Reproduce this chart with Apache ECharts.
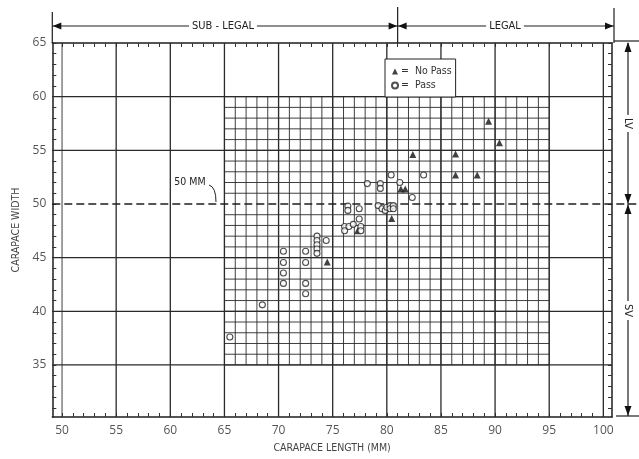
<!DOCTYPE html>
<html><head><meta charset="utf-8">
<script src="https://cdn.jsdelivr.net/npm/echarts@6/dist/echarts.min.js"></script>
<style>html,body{margin:0;padding:0;background:#fff}#c{width:639px;height:459px}</style>
</head><body><div id="c"></div>
<script>
// ---- data ----
const xTickLabels = [50,55,60,65,70,75,80,85,90,95,100];
const yTickLabels = [35,40,45,50,55,60,65];
const passLength = [65.5,68.5,70.45,70.45,70.45,70.45,72.5,72.5,72.5,72.5,73.55,73.55,73.55,73.55,73.55,74.4,76.4,76.4,77.45,77.45,76.1,76.1,76.5,76.9,77.6,77.6,78.2,79.4,79.4,80.4,81.2,82.35,83.4,79.2,79.55,79.85,80.0,80.3,80.3,80.6,80.6];
const passWidth  = [37.6,40.6,45.6,44.55,43.57,42.6,45.6,44.55,42.6,41.64,47.0,46.6,46.2,45.8,45.4,46.6,49.8,49.4,49.55,48.6,47.9,47.5,47.9,48.1,47.9,47.5,51.9,51.9,51.45,52.7,52.0,50.6,52.7,49.85,49.55,49.4,49.7,49.85,49.55,49.85,49.55];
const noPassLength = [74.5,77.3,80.45,81.3,81.7,82.4,86.35,86.35,88.35,89.4,90.4];
const noPassWidth  = [44.6,47.5,48.65,51.4,51.4,54.6,54.65,52.7,52.7,57.7,55.7];
const legalLength = 81;     // SUB-LEGAL / LEGAL boundary (mm)
const refWidth = 50;        // 50 MM carapace width reference
const xMin = 49.1, xMax = 100.8, yMin = 30.15, yMax = 65;
const majorX = [50,55,60,65,70,75,80,85,90,95,100];
const majorY = [35,40,45,55,60];
const fineXRange = [65,95], fineYRange = [35,60];

// ---- build ----
const pass = passLength.map((v,i)=>[v, passWidth[i]]);
const noPass = noPassLength.map((v,i)=>[v, noPassWidth[i]]);
const segs = [];
for (let x = fineXRange[0]; x <= fineXRange[1]; x++) segs.push([x, fineYRange[0], x, fineYRange[1], 0.9]);
for (let y = fineYRange[0]; y <= fineYRange[1]; y++) if (y !== refWidth) segs.push([fineXRange[0], y, fineXRange[1], y, 0.9]);
majorX.forEach(x => segs.push([x, yMin, x, yMax, x === 50 ? 0.9 : 1.3]));
majorY.forEach(y => segs.push([xMin, y, xMax, y, 1.3]));
const tickX = []; for (let x = 50; x <= 100; x++) tickX.push(x);
const tickY = []; for (let y = 31; y <= 65; y++) tickY.push(y);

const labelFont = 'Open Sans';
const frame = {show:true, onZero:false, lineStyle:{color:'#1e1e1e', width:1.5}};
const ticks = (vals)=>({show:true, inside:true, length:4, customValues: vals, lineStyle:{color:'#333', width:1}});

const chart = echarts.init(document.getElementById('c'));
chart.setOption({
  animation:false,
  backgroundColor:'#fff',
  grid:{left:52.3, right:27, top:43, bottom:37.3, containLabel:false},
  xAxis:[
    {type:'value', min:xMin, max:xMax, position:'bottom', axisLine:frame, axisTick:ticks(tickX),
     axisLabel:{customValues:xTickLabels, color:'#555', fontSize:12, margin:8, fontFamily:labelFont},
     splitLine:{show:false},
     name:'CARAPACE LENGTH (MM)', nameLocation:'middle', nameGap:26,
     nameTextStyle:{color:'#444', fontSize:10.5, fontFamily:'DejaVu Sans Condensed'}},
    {type:'value', min:xMin, max:xMax, position:'top', axisLine:frame, axisTick:ticks(tickX),
     axisLabel:{show:false}, splitLine:{show:false}}
  ],
  yAxis:[
    {type:'value', min:yMin, max:yMax, position:'left', axisLine:frame, axisTick:ticks(tickY),
     axisLabel:{customValues:yTickLabels, color:'#555', fontSize:12, margin:6, fontFamily:labelFont},
     splitLine:{show:false},
     name:'CARAPACE WIDTH', nameLocation:'middle', nameGap:28,
     nameTextStyle:{color:'#444', fontSize:10.5, fontFamily:'DejaVu Sans Condensed'}},
    {type:'value', min:yMin, max:yMax, position:'right', axisLine:frame, axisTick:ticks(tickY),
     axisLabel:{show:false}, splitLine:{show:false}}
  ],
  legend:{data:['No Pass','Pass'], orient:'vertical', left:385, top:59, selectedMode:false,
    backgroundColor:'#fff', borderColor:'#222', borderWidth:1, borderRadius:0,
    padding:[7,4,6,6], itemGap:3, itemWidth:6, itemHeight:6,
    formatter: n => '=  ' + n,
    textStyle:{fontSize:10.5, color:'#333', fontFamily:'DejaVu Sans Condensed', padding:[0,0,0,-2]}},
  series:[
    {type:'custom', name:'grid', coordinateSystem:'cartesian2d', silent:true, z:1,
     data:segs, encode:{x:[0,2], y:[1,3]},
     renderItem:(params, api)=>{
       const p1 = api.coord([api.value(0), api.value(1)]);
       const p2 = api.coord([api.value(2), api.value(3)]);
       return {type:'line', shape:{x1:p1[0], y1:p1[1], x2:p2[0], y2:p2[1]},
               style:{stroke:'#2a2a2a', lineWidth:api.value(4)}};
     }},
    {type:'scatter', name:'No Pass', data:noPass, symbol:'triangle', symbolSize:7, z:3,
     itemStyle:{color:'#111'}},
    {type:'scatter', name:'Pass', data:pass, symbol:'circle', symbolSize:6, z:3,
     itemStyle:{color:'#fff', borderColor:'#222', borderWidth:1.1}}
  ]
});

// ---- annotations positioned through the axes ----
const px = (x,y)=>chart.convertToPixel({xAxisIndex:0, yAxisIndex:0}, [x,y]);
const L = px(xMin, yMax)[0], R = px(xMax, yMax)[0], T = px(xMin, yMax)[1], B = px(xMin, yMin)[1];
const LX = px(legalLength, yMax)[0];
const Y50 = px(xMin, refWidth)[1];
const rX = R + 2;
const ay = 26, ax = 628;
const ln = (x1,y1,x2,y2,w,dash)=>({type:'line', z:10, silent:true, shape:{x1,y1,x2,y2}, style:{stroke:'#1e1e1e', lineWidth:w||1.2, lineDash:dash||null}});
const tri = (pts)=>({type:'polygon', z:11, silent:true, shape:{points:pts}, style:{fill:'#111'}});
const txt = (t,x,y,size,rot)=>({type:'text', z:12, silent:true, x, y, rotation:rot||0,
  style:{text:t, fill:'#222', font:`${size}px "DejaVu Sans Condensed"`, align:'center', verticalAlign:'middle',
  backgroundColor:'#fff', padding:[0,3]}});
const g = [];
// top brackets
g.push(ln(L, 12, L, T));
g.push(ln(LX, 7, LX, T));
g.push(ln(rX, 8, rX, T));
g.push(ln(L, ay, LX, ay));
g.push(ln(LX, ay, rX, ay));
g.push(tri([[L+0.5,ay],[L+9,ay-3.5],[L+9,ay+3.5]]));
g.push(tri([[LX-0.5,ay],[LX-9,ay-3.5],[LX-9,ay+3.5]]));
g.push(tri([[LX+0.5,ay],[LX+9,ay-3.5],[LX+9,ay+3.5]]));
g.push(tri([[rX-0.5,ay],[rX-9,ay-3.5],[rX-9,ay+3.5]]));
g.push(txt('SUB - LEGAL', 223, ay, 11));
g.push(txt('LEGAL', 505, ay, 11));
// 50 MM dashed reference line
g.push(Object.assign(ln(L, Y50, 639, Y50, 1.4, [8,4]), {z:2}));
g.push({type:'text', z:12, silent:true, x:190, y:182,
  style:{text:'50 MM', fill:'#222', font:'10.5px "DejaVu Sans Condensed"', align:'center', verticalAlign:'middle'}});
g.push({type:'bezierCurve', z:10, silent:true,
  shape:{x1:209, y1:185, x2:216, y2:Y50-2, cpx1:216, cpy1:187},
  style:{stroke:'#222', lineWidth:1, fill:null}});
// right side LV / SV
g.push(ln(R+2, T-2, 639, T-2));
g.push(ln(R+4, B-1, 639, B-1));
g.push(ln(ax, T, ax, Y50));
g.push(ln(ax, Y50, ax, B-1));
g.push(tri([[ax,T-1],[ax-3.5,T+9],[ax+3.5,T+9]]));
g.push(tri([[ax,Y50-0.5],[ax-3.5,Y50-10],[ax+3.5,Y50-10]]));
g.push(tri([[ax,Y50+0.5],[ax-3.5,Y50+10],[ax+3.5,Y50+10]]));
g.push(tri([[ax,B-1.5],[ax-3.5,B-11],[ax+3.5,B-11]]));
g.push(txt('LV', ax, (T+Y50)/2, 11, -Math.PI/2));
g.push(txt('SV', ax, (Y50+B)/2, 11, -Math.PI/2));
chart.setOption({graphic:{elements:g}});
</script>
</body></html>
